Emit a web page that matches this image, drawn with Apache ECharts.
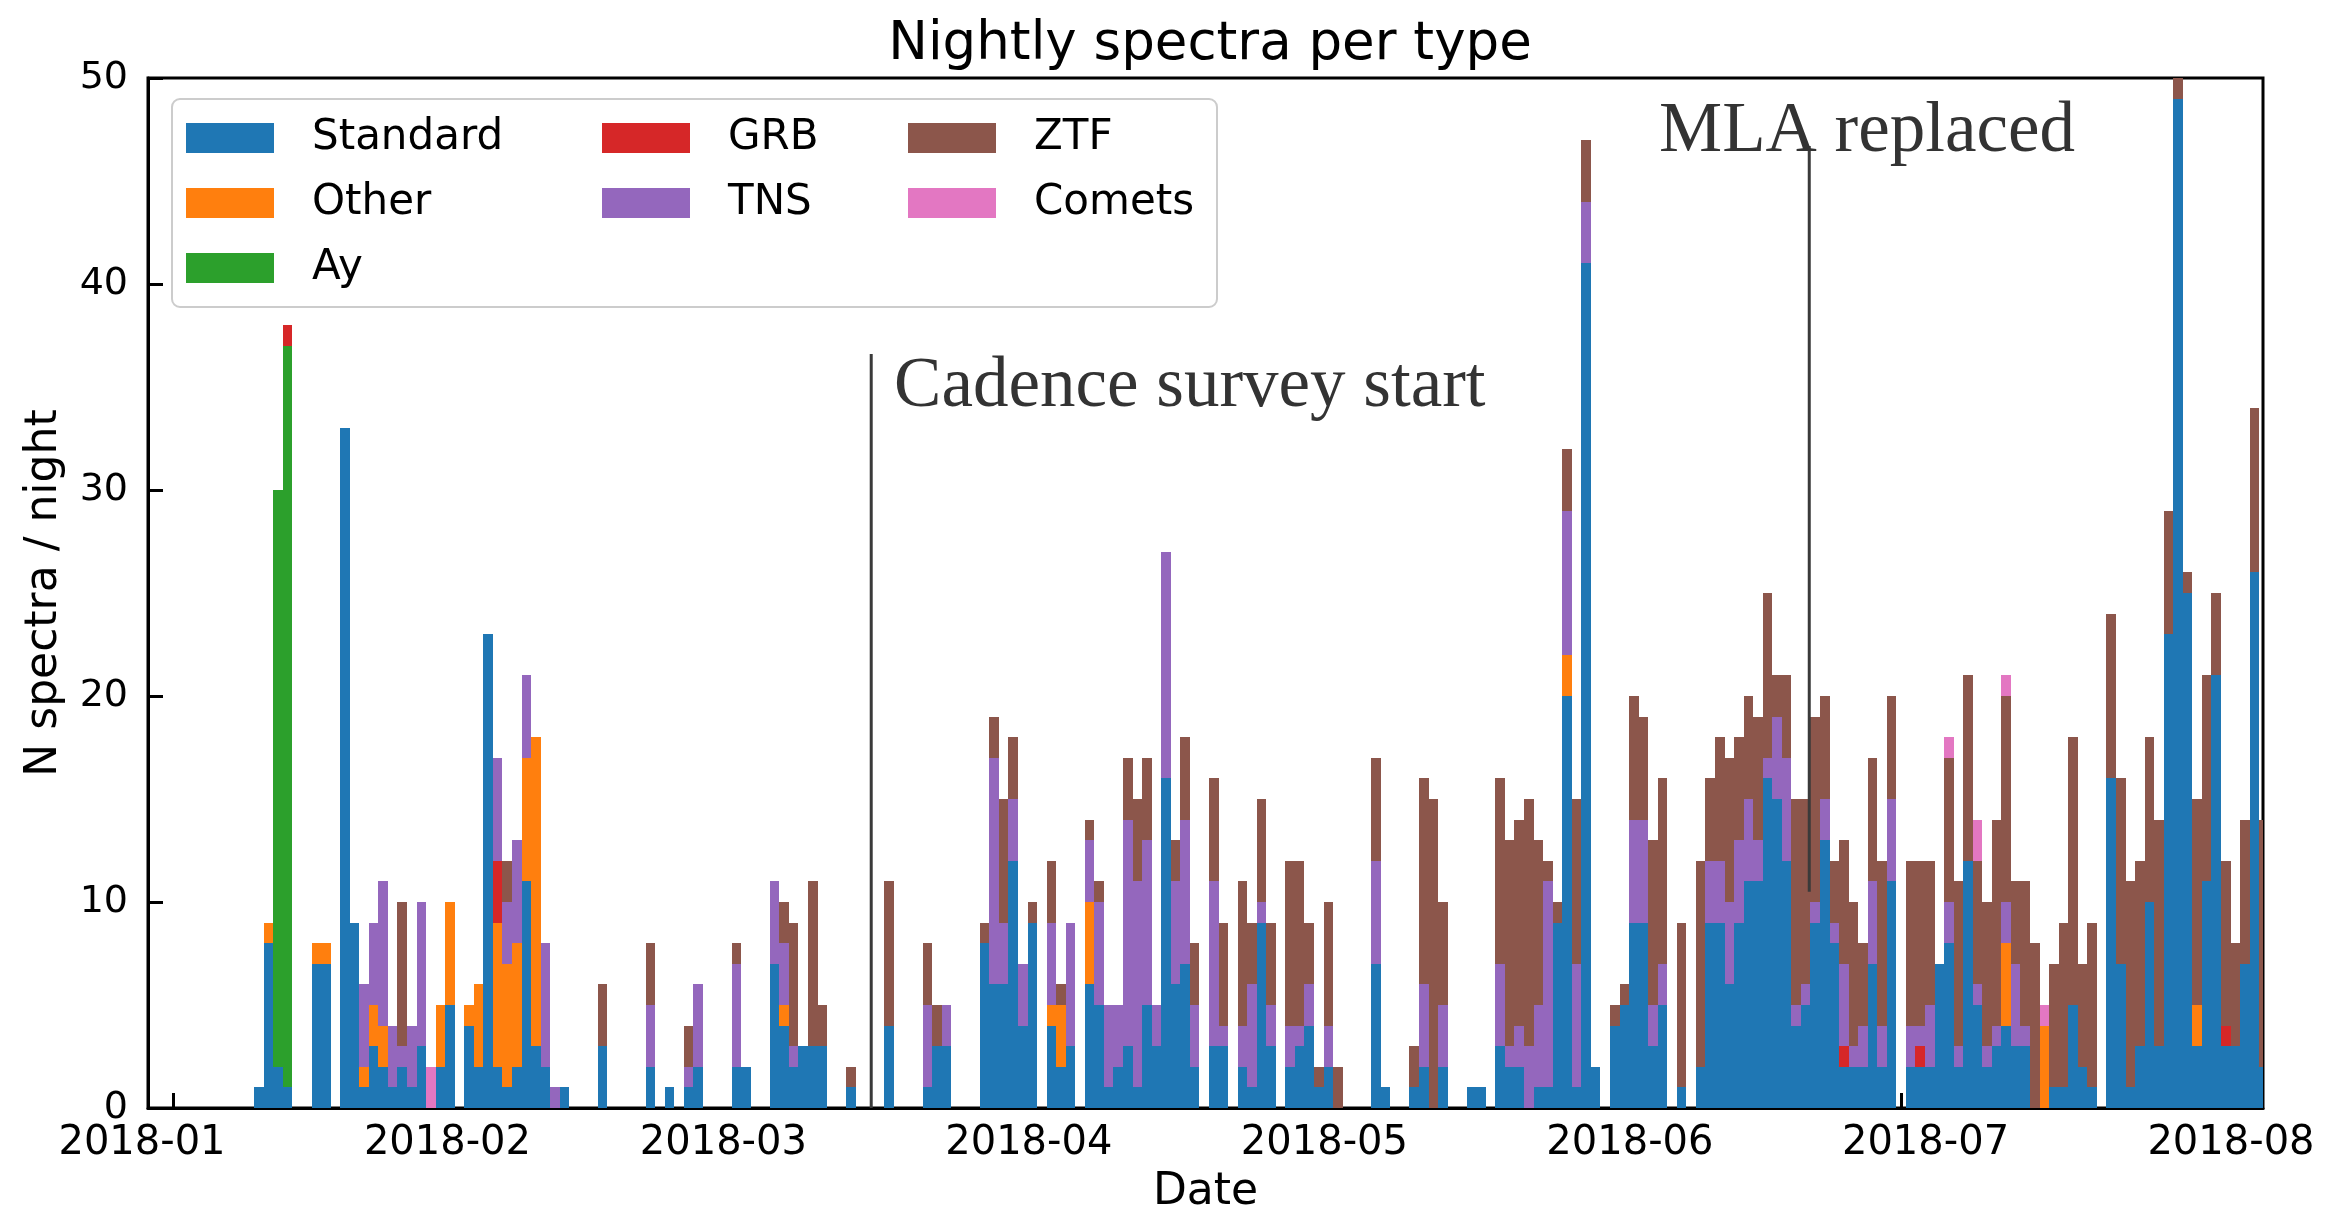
<!DOCTYPE html>
<html><head><meta charset="utf-8">
<script src="https://cdn.jsdelivr.net/npm/echarts@6/dist/echarts.min.js"></script>
<style>html,body{margin:0;padding:0;background:#fff}#chart{width:2347px;height:1211px}</style>
</head><body><div id="chart"></div>
<script>
// ---------------- DATA ----------------
const nights = [
'2018-01-09','2018-01-10','2018-01-11','2018-01-12','2018-01-15','2018-01-16','2018-01-18','2018-01-19','2018-01-20','2018-01-21',
'2018-01-22','2018-01-23','2018-01-24','2018-01-25','2018-01-26','2018-01-27','2018-01-28','2018-01-29','2018-01-31','2018-02-01',
'2018-02-02','2018-02-03','2018-02-04','2018-02-05','2018-02-06','2018-02-07','2018-02-08','2018-02-09','2018-02-10','2018-02-14',
'2018-02-19','2018-02-21','2018-02-23','2018-02-24','2018-02-28','2018-03-01','2018-03-04','2018-03-05','2018-03-06','2018-03-07',
'2018-03-08','2018-03-09','2018-03-12','2018-03-16','2018-03-20','2018-03-21','2018-03-22','2018-03-26','2018-03-27','2018-03-28',
'2018-03-29','2018-03-30','2018-03-31','2018-04-02','2018-04-03','2018-04-04','2018-04-06','2018-04-07','2018-04-08','2018-04-09',
'2018-04-10','2018-04-11','2018-04-12','2018-04-13','2018-04-14','2018-04-15','2018-04-16','2018-04-17','2018-04-19','2018-04-20',
'2018-04-22','2018-04-23','2018-04-24','2018-04-25','2018-04-27','2018-04-28','2018-04-29','2018-04-30','2018-05-01','2018-05-02',
'2018-05-06','2018-05-07','2018-05-10','2018-05-11','2018-05-12','2018-05-13','2018-05-16','2018-05-17','2018-05-19','2018-05-20',
'2018-05-21','2018-05-22','2018-05-23','2018-05-24','2018-05-25','2018-05-26','2018-05-27','2018-05-28','2018-05-29','2018-05-31',
'2018-06-01','2018-06-02','2018-06-03','2018-06-04','2018-06-05','2018-06-07','2018-06-09','2018-06-10','2018-06-11','2018-06-12',
'2018-06-13','2018-06-14','2018-06-15','2018-06-16','2018-06-17','2018-06-18','2018-06-19','2018-06-20','2018-06-21','2018-06-22',
'2018-06-23','2018-06-24','2018-06-25','2018-06-26','2018-06-27','2018-06-28','2018-06-29','2018-07-01','2018-07-02','2018-07-03',
'2018-07-04','2018-07-05','2018-07-06','2018-07-07','2018-07-08','2018-07-09','2018-07-10','2018-07-11','2018-07-12','2018-07-13',
'2018-07-14','2018-07-15','2018-07-16','2018-07-17','2018-07-18','2018-07-19','2018-07-20','2018-07-22','2018-07-23','2018-07-24',
'2018-07-25','2018-07-26','2018-07-27','2018-07-28','2018-07-29','2018-07-30','2018-07-31','2018-08-01','2018-08-02','2018-08-03',
'2018-08-04','2018-08-05','2018-08-06','2018-08-07'
];
// aligned with nights
const standard = [
1,8,2,1,7,7,33,9,1,3,
2,1,2,1,3,0,2,5,4,2,
23,2,1,2,11,3,2,0,1,3,
2,1,1,2,2,2,7,4,2,3,
3,3,1,4,1,3,3,8,6,6,
12,4,9,4,2,3,6,5,1,2,
3,1,5,3,16,6,7,2,3,3,
2,1,9,3,2,3,4,1,2,0,
7,1,1,2,0,2,1,1,3,2,
2,0,1,1,9,20,1,41,2,4,
5,9,9,3,5,1,2,9,9,6,
9,11,11,16,15,12,4,5,9,13,
8,2,2,2,7,2,11,2,2,2,
7,8,2,12,5,2,3,4,3,3,
0,0,1,1,5,2,1,16,7,1,
3,10,3,23,49,25,3,11,21,3,
3,7,26,2
];
const tns = [
0,0,0,0,0,0,0,0,4,4,
7,3,1,3,7,0,0,0,0,0,
0,5,3,5,4,0,6,1,0,0,
3,0,1,4,5,0,4,3,1,0,
0,0,0,0,4,0,2,0,11,3,
3,3,0,4,0,6,3,5,4,3,
11,10,8,2,11,5,7,3,8,1,
2,5,1,2,2,1,2,0,2,0,
5,0,0,4,0,3,0,0,4,1,
2,3,4,10,0,7,6,3,0,0,
0,5,5,2,2,0,0,3,3,4,
4,4,2,1,4,5,1,1,1,2,
1,4,1,2,4,2,4,2,1,3,
0,2,1,0,1,1,1,2,4,1,
0,0,0,0,0,0,0,0,0,0,
0,0,0,0,0,0,0,0,0,0,
0,0,0,0
];
const ztf = [
0,0,0,0,0,0,0,0,0,0,
0,0,7,0,0,0,0,0,0,0,
0,0,2,0,0,0,0,0,0,3,
3,0,2,0,1,0,0,2,6,0,
8,2,1,7,3,2,0,1,2,6,
3,0,1,3,1,0,1,1,0,0,
3,4,4,0,0,2,4,3,5,5,
7,3,5,4,8,8,3,1,6,2,
5,0,2,10,15,5,0,0,9,10,
10,12,8,1,1,3,8,3,0,1,
1,6,5,8,9,8,10,4,6,7,
5,5,6,8,2,4,10,9,9,5,
3,6,7,4,6,8,5,8,8,7,
0,7,8,9,6,7,10,10,4,7,
8,0,6,8,13,5,8,8,9,10,
9,8,11,6,2,1,10,10,4,8,
5,7,8,12
];
// sparse series: [night, count]
const other = [['2018-01-10',1],['2018-01-15',1],['2018-01-16',1],['2018-01-20',1],['2018-01-21',2],['2018-01-22',2],
['2018-01-28',3],['2018-01-29',5],['2018-01-31',1],['2018-02-01',4],['2018-02-03',7],['2018-02-04',6],['2018-02-05',6],
['2018-02-06',6],['2018-02-07',15],['2018-03-05',1],['2018-04-02',1],['2018-04-03',3],['2018-04-06',4],['2018-05-26',2],
['2018-07-11',4],['2018-07-15',4],['2018-07-31',2]];
const ay = [['2018-01-11',28],['2018-01-12',36]];
const grb = [['2018-01-12',1],['2018-02-03',3],['2018-06-24',1],['2018-07-02',1],['2018-08-03',1]];
const comets = [['2018-01-27',2],['2018-07-05',1],['2018-07-08',2],['2018-07-11',1],['2018-07-15',1]];

const seriesNames = ['Standard','Other','Ay','GRB','TNS','ZTF','Comets'];
const seriesColors = ['#1f77b4','#ff7f0e','#2ca02c','#d62728','#9467bd','#8c564b','#e377c2'];
const monthTicks = ['2018-01-01','2018-02-01','2018-03-01','2018-04-01','2018-05-01','2018-06-01','2018-07-01','2018-08-01'];
const yTicks = [0,10,20,30,40,50];
const xRange = ['2017-12-29T09:00','2018-08-07T21:36'];
// the tick-label row of the reference is laid out on its own, slightly wider time scale
const labelRange = ['2017-12-27T17:43','2018-08-04T06:00'];

const annotLineDates = ['2018-03-15T03:00','2018-06-21T09:00'];
const annotLineFrom = [0, 10.5];
const annotLineTo = [36.6, 46.7];
const annotTextDates = ['2018-03-17T12:30','2018-06-05T15:30'];
const annotTextY = [34.3, 46.7];
const annotLabels = ['Cadence survey start','MLA replaced'];

// ---------------- BUILD ----------------
const DAY = 86400000;
function parseT(s){
  const parts = s.split('T');
  const d = parts[0].split('-').map(Number);
  let h = 0, mi = 0;
  if (parts[1]) { const t = parts[1].split(':').map(Number); h = t[0]; mi = t[1] || 0; }
  return Date.UTC(d[0], d[1]-1, d[2], h, mi);
}
function fmtMonth(v){
  const d = new Date(v);
  return d.getUTCFullYear() + '-' + String(d.getUTCMonth()+1).padStart(2,'0');
}
function alignSparse(pairs){
  const arr = nights.map(()=>0);
  pairs.forEach(p => { const j = nights.indexOf(p[0]); if (j >= 0) arr[j] += p[1]; });
  return arr;
}
const counts = [standard, alignSparse(other), alignSparse(ay), alignSparse(grb), tns, ztf, alignSparse(comets)];
const base = nights.map(()=>0);
const FONT = 'DejaVu Sans';

const barSeries = seriesNames.map((name, k) => {
  const data = [];
  nights.forEach((n, j) => {
    const v = counts[k][j];
    if (v > 0) {
      const s = parseT(n) + DAY/2;
      data.push([s, s + DAY, base[j], base[j] + v]);
      base[j] += v;
    }
  });
  return {
    type: 'custom', name: name, clip: true, silent: true,
    xAxisIndex: 0, yAxisIndex: 0,
    itemStyle: { color: seriesColors[k] },
    encode: { x: [0, 1], y: [2, 3] },
    renderItem: function(params, api){
      const p0 = api.coord([api.value(0), api.value(2)]);
      const p1 = api.coord([api.value(1), api.value(3)]);
      const x0 = Math.round(p0[0]), x1 = Math.round(p1[0]);
      const y0 = Math.round(p0[1]), y1 = Math.round(p1[1]);
      return { type: 'rect', shape: { x: x0, y: y1, width: x1 - x0, height: y0 - y1 },
               style: { fill: seriesColors[k] } };
    },
    data: data
  };
});

const annotSeries = {
  type: 'custom', name: 'annotations', silent: true, clip: false, z: 6,
  xAxisIndex: 0, yAxisIndex: 0,
  encode: { x: [0, 3], y: [1, 2, 4] },
  data: annotLineDates.map((d, i) => [parseT(d), annotLineFrom[i], annotLineTo[i], parseT(annotTextDates[i]), annotTextY[i]]),
  renderItem: function(params, api){
    const i = params.dataIndex;
    const a = api.coord([api.value(0), api.value(1)]);
    const b = api.coord([api.value(0), api.value(2)]);
    const c = api.coord([api.value(3), api.value(4)]);
    return { type: 'group', children: [
      { type: 'line', shape: { x1: a[0], y1: a[1], x2: b[0], y2: b[1] }, style: { stroke: '#3a3a3a', lineWidth: 3 } },
      { type: 'text', x: c[0], y: c[1] - 14, style: { text: annotLabels[i], fontFamily: 'Liberation Serif', fontSize: 71,
        fill: '#333333', align: 'left', verticalAlign: 'middle' } }
    ]};
  }
};

const legendCommon = {
  orient: 'vertical', top: 117, padding: 0, itemWidth: 88, itemHeight: 30, itemGap: 23,
  icon: 'rect', selectedMode: false,
  textStyle: { fontFamily: FONT, fontSize: 42, color: '#000', lineHeight: 30, padding: [0, 0, 0, 33] }
};

const tickValues = monthTicks.map(parseT);

const option = {
  backgroundColor: '#fff',
  animation: false,
  title: { text: 'Nightly spectra per type', left: 1205, top: 14, textAlign: 'center',
    textStyle: { fontFamily: FONT, fontSize: 53, fontWeight: 'normal', color: '#000' } },
  graphic: [{ type: 'rect', z: 3, shape: { x: 172, y: 99, width: 1045, height: 208, r: 8 },
    style: { fill: 'rgba(255,255,255,0.85)', stroke: '#cccccc', lineWidth: 2 } }],
  legend: [
    Object.assign({}, legendCommon, { left: 186, data: ['Standard','Other','Ay'] }),
    Object.assign({}, legendCommon, { left: 602, data: ['GRB','TNS'] }),
    Object.assign({}, legendCommon, { left: 908, data: ['ZTF','Comets'] })
  ],
  grid: [
    { left: 148, right: 84, top: 78, bottom: 103, show: true, borderColor: '#000', borderWidth: 3,
      backgroundColor: 'transparent', containLabel: false, outerBoundsMode: 'none' },
    { left: 100, right: 84, top: 78, bottom: 103, show: false, containLabel: false, outerBoundsMode: 'none' }
  ],
  xAxis: [{
    type: 'value', gridIndex: 0, min: parseT(xRange[0]), max: parseT(xRange[1]), scale: true,
    name: 'Date', nameLocation: 'middle', nameGap: 63,
    nameTextStyle: { fontFamily: FONT, fontSize: 44, color: '#000' },
    axisLine: { show: true, lineStyle: { color: '#000', width: 3 } },
    axisTick: { show: true, inside: true, length: 15, lineStyle: { color: '#000', width: 3 },
      customValues: tickValues },
    axisLabel: { show: false },
    splitLine: { show: false }, minorTick: { show: false }
  }, {
    type: 'value', gridIndex: 1, min: parseT(labelRange[0]), max: parseT(labelRange[1]), scale: true,
    axisLine: { show: false }, axisTick: { show: false }, splitLine: { show: false },
    axisLabel: { show: true, margin: 16, fontFamily: FONT, fontSize: 40, color: '#000',
      customValues: tickValues, hideOverlap: false, showMinLabel: true, showMaxLabel: true,
      formatter: fmtMonth }
  }],
  yAxis: [{
    type: 'value', gridIndex: 0, min: yTicks[0], max: yTicks[yTicks.length-1], interval: yTicks[1] - yTicks[0],
    name: 'N spectra / night', nameLocation: 'middle', nameGap: 81,
    nameTextStyle: { fontFamily: FONT, fontSize: 44, color: '#000' },
    axisLine: { show: true, lineStyle: { color: '#000', width: 3 } },
    axisTick: { show: true, inside: true, length: 15, lineStyle: { color: '#000', width: 3 } },
    axisLabel: { show: true, margin: 20, fontFamily: FONT, fontSize: 38, color: '#000' },
    splitLine: { show: false }
  }, {
    type: 'value', gridIndex: 1, min: 0, max: 50, show: false
  }],
  series: barSeries.concat([annotSeries])
};

const chart = echarts.init(document.getElementById('chart'), null, { renderer: 'canvas' });
chart.setOption(option);
</script>
</body></html>
